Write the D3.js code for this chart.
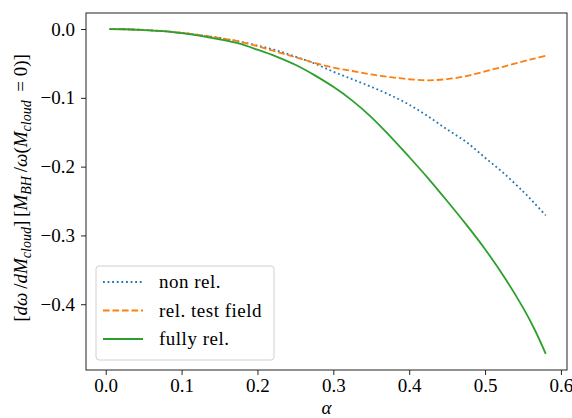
<!DOCTYPE html>
<html>
<head>
<meta charset="utf-8">
<script src="https://cdn.jsdelivr.net/npm/d3@7"></script>
<style>
  html, body { margin: 0; padding: 0; background: #fff; }
  svg { display: block; }
  text { font-family: "Liberation Serif", "DejaVu Serif", serif; fill: #000; }
</style>
</head>
<body>
<svg id="chart" width="572" height="418"></svg>
<script>
// ---- data ----
const alpha = [0.005, 0.025, 0.05, 0.075, 0.1, 0.125, 0.15, 0.175, 0.2, 0.225, 0.25, 0.275, 0.3, 0.325, 0.35, 0.375, 0.4, 0.425, 0.45, 0.475, 0.5, 0.525, 0.55, 0.565, 0.58];
const nonRel = [0, -0.0003, -0.0014, -0.003, -0.0055, -0.009, -0.013, -0.018, -0.024, -0.031, -0.040, -0.050, -0.062, -0.073, -0.084, -0.096, -0.110, -0.127, -0.146, -0.164, -0.187, -0.210, -0.236, -0.253, -0.271];
const relTestField = [0, -0.0003, -0.0014, -0.003, -0.0055, -0.009, -0.013, -0.018, -0.025, -0.033, -0.041, -0.049, -0.056, -0.061, -0.066, -0.070, -0.073, -0.0745, -0.0728, -0.0685, -0.0615, -0.0545, -0.047, -0.043, -0.039];
const fullyRel = [0, -0.0003, -0.0015, -0.003, -0.006, -0.010, -0.015, -0.021, -0.030, -0.040, -0.052, -0.067, -0.084, -0.104, -0.128, -0.156, -0.186, -0.217, -0.250, -0.284, -0.320, -0.360, -0.405, -0.436, -0.472];
const seriesNames = ["non rel.", "rel. test field", "fully rel."];
const xTicks = [0.0, 0.1, 0.2, 0.3, 0.4, 0.5, 0.6];
const yTicks = [0.0, -0.1, -0.2, -0.3, -0.4];

// ---- layout ----
const svg = d3.select("#chart");
const L = 86, R = 567, T = 13, B = 370;
const x = d3.scaleLinear().domain([-0.026, 0.608]).range([L, R]);
const y = d3.scaleLinear().domain([-0.4956, 0.0233]).range([B, T]);

svg.append("rect").attr("width", 572).attr("height", 418).attr("fill", "#fff");

svg.append("defs").append("clipPath").attr("id", "clip")
  .append("rect").attr("x", L).attr("y", T).attr("width", R - L).attr("height", B - T);

const styles = [
  { color: "#1f77b4", dash: "1.8,2.8" },
  { color: "#ff7f0e", dash: "6.6,2.9" },
  { color: "#2ca02c", dash: null }
];
const values = [nonRel, relTestField, fullyRel];

const line = d3.line()
  .x(d => x(d[0])).y(d => y(d[1]))
  .curve(d3.curveCatmullRom.alpha(0.5));

const g = svg.append("g").attr("clip-path", "url(#clip)");
values.forEach((vals, i) => {
  g.append("path")
    .datum(alpha.map((a, j) => [a, vals[j]]))
    .attr("fill", "none")
    .attr("stroke", styles[i].color)
    .attr("stroke-width", 1.8)
    .attr("stroke-dasharray", styles[i].dash)
    .attr("d", line);
});

// axes
const fmt = v => d3.format(".1f")(v).replace("-", "\u2212");
const xAxis = svg.append("g").attr("transform", `translate(0,${B})`)
  .call(d3.axisBottom(x).tickValues(xTicks).tickFormat(fmt).tickSize(5).tickPadding(4));
const yAxis = svg.append("g").attr("transform", `translate(${L},0)`)
  .call(d3.axisLeft(y).tickValues(yTicks).tickFormat(fmt).tickSize(5).tickPadding(6));
[xAxis, yAxis].forEach(a => {
  a.select(".domain").remove();
  a.selectAll("line").attr("stroke", "#222").attr("stroke-width", 1);
  a.selectAll("text").attr("font-family", "Liberation Serif, serif").attr("font-size", 19).attr("fill", "#000");
});

// frame
svg.append("rect").attr("x", L).attr("y", T).attr("width", R - L).attr("height", B - T)
  .attr("fill", "none").attr("stroke", "#222").attr("stroke-width", 1);

// x label
svg.append("text").attr("x", (L + R) / 2).attr("y", 414).attr("text-anchor", "middle")
  .attr("font-size", 19).attr("font-style", "italic").text("α");

// y label
const yl = svg.append("text")
  .attr("transform", `translate(27,188) rotate(-90)`)
  .attr("text-anchor", "middle").attr("font-size", 19);
const parts = [
  ["[", false, false], ["dω", true, false], ["\u2009/", false, false], ["dM", true, false], ["cloud", true, true],
  ["]\u2009[", false, false], ["M", true, false], ["BH", true, true], ["\u2009/", false, false], ["ω", true, false], ["(", false, false],
  ["M", true, false], ["cloud", true, true], ["\u2009 = 0)]", false, false]
];
let prevSub = false;
parts.forEach(([t, it, sub]) => {
  const ts = yl.append("tspan").text(t);
  if (it) ts.attr("font-style", "italic");
  if (sub) { ts.attr("font-size", 14).attr("dy", 4); }
  else if (prevSub) { ts.attr("dy", -4); }
  prevSub = sub;
});

// legend
const lg = svg.append("g");
lg.append("rect").attr("x", 96).attr("y", 266).attr("width", 178).attr("height", 94)
  .attr("rx", 3).attr("fill", "#fff").attr("fill-opacity", 0.8)
  .attr("stroke", "#d0d0d0").attr("stroke-width", 1);
seriesNames.forEach((name, i) => {
  const yy = 282 + i * 28.5;
  lg.append("line").attr("x1", 103).attr("x2", 143).attr("y1", yy).attr("y2", yy)
    .attr("stroke", styles[i].color).attr("stroke-width", 1.8)
    .attr("stroke-dasharray", styles[i].dash);
  lg.append("text").attr("x", 159).attr("y", yy + 6).attr("font-size", 19)
    .attr("letter-spacing", 0.5).text(name);
});
</script>
</body>
</html>
